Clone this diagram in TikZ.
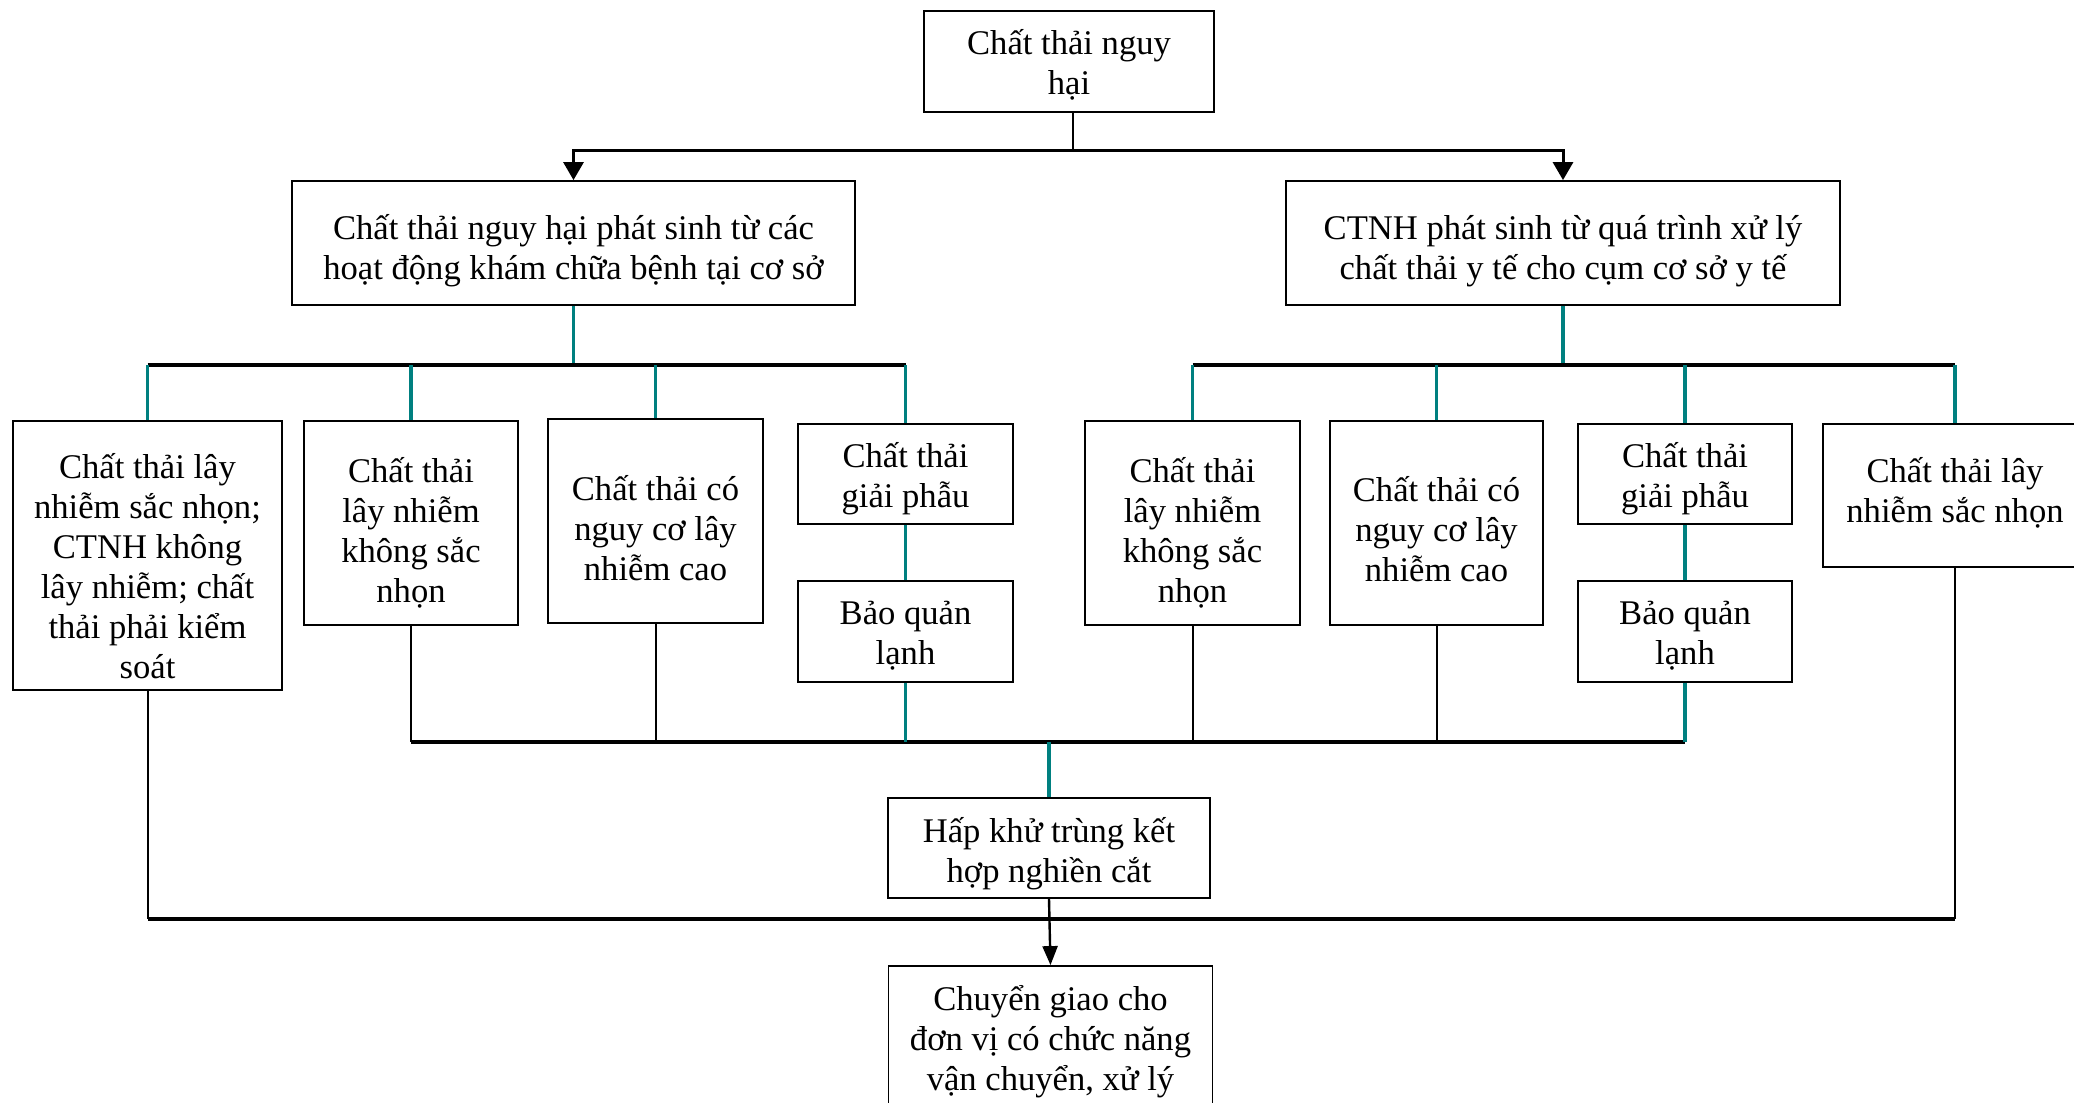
\documentclass[tikz,border=0pt]{standalone}
\usepackage{fontspec}
\setmainfont{Liberation Serif}
\usetikzlibrary{arrows.meta}
\definecolor{tealc}{RGB}{0,128,128}
\begin{document}
\begin{tikzpicture}[x=0.5pt,y=-0.5pt,
  box/.style={draw, line width=0.9pt, inner sep=0pt},
  lbl/.style={inner sep=0pt, align=center, font=\fontsize{17.3}{20}\selectfont},
  tealline/.style={draw=tealc, line width=1.7pt},
  thinline/.style={draw=black, line width=1pt},
  busline/.style={draw=black, line width=2pt},
  toparrow/.style={draw=black, line width=1.5pt, -{Triangle[length=9pt,width=10pt]}},
  botarrow/.style={draw=black, line width=1.2pt, -{Triangle[length=9.5pt,width=7.5pt]}}]
\fill[white] (0,0) rectangle (2074,1103);
\useasboundingbox (0,0) rectangle (2074,1103);

% boxes
\node[box, minimum width=145pt, minimum height=50.5pt] (top) at (1069,61.5) {};
\node[box, minimum width=281.5pt, minimum height=62pt] (L2a) at (573.5,243) {};
\node[box, minimum width=277pt, minimum height=62pt] (L2b) at (1563,243) {};
\node[box, minimum width=134.5pt, minimum height=134.5pt] (A) at (147.5,555.5) {};
\node[box, minimum width=107pt, minimum height=102pt] (B) at (411,523) {};
\node[box, minimum width=107.5pt, minimum height=102pt] (C) at (655.5,521) {};
\node[box, minimum width=107.5pt, minimum height=50pt] (D) at (905.5,474) {};
\node[box, minimum width=107.5pt, minimum height=50.5pt] (E) at (905.5,631.5) {};
\node[box, minimum width=107.5pt, minimum height=102pt] (F) at (1192.5,523) {};
\node[box, minimum width=106.5pt, minimum height=102pt] (G) at (1436.5,523) {};
\node[box, minimum width=107pt, minimum height=50pt] (H) at (1685,474) {};
\node[box, minimum width=107pt, minimum height=50.5pt] (I) at (1685,631.5) {};
\node[box, minimum width=132pt, minimum height=71.5pt] (J) at (1955,495.5) {};
\node[box, minimum width=161pt, minimum height=50pt] (K) at (1049,848) {};
\node[box, minimum width=162pt, minimum height=72pt] (L) at (1050.5,1038) {};

% texts
\node[lbl] (topT) at ([yshift=-1.6pt]top.center) {Chất thải nguy\\hại};
\node[lbl] (L2aT) at ([yshift=-4pt]L2a.center) {Chất thải nguy hại phát sinh từ các\\hoạt động khám chữa bệnh tại cơ sở};
\node[lbl] (L2bT) at ([yshift=-4pt]L2b.center) {CTNH phát sinh từ quá trình xử lý\\chất thải y tế cho cụm cơ sở y tế};
\node[lbl] (AT) at ([yshift=-5.5pt]A.center) {Chất thải lây\\nhiễm sắc nhọn;\\CTNH không\\lây nhiễm; chất\\thải phải kiểm\\soát};
\node[lbl] (BT) at ([yshift=-5pt]B.center) {Chất thải\\lây nhiễm\\không sắc\\nhọn};
\node[lbl] (CT) at ([yshift=-3.5pt]C.center) {Chất thải có\\nguy cơ lây\\nhiễm cao};
\node[lbl] (DT) at ([yshift=-2.2pt]D.center) {Chất thải\\giải phẫu};
\node[lbl] (ET) at ([yshift=-2pt]E.center) {Bảo quản\\lạnh};
\node[lbl] (FT) at ([yshift=-5pt]F.center) {Chất thải\\lây nhiễm\\không sắc\\nhọn};
\node[lbl] (GT) at ([yshift=-3pt]G.center) {Chất thải có\\nguy cơ lây\\nhiễm cao};
\node[lbl] (HT) at ([yshift=-2.2pt]H.center) {Chất thải\\giải phẫu};
\node[lbl] (IT) at ([yshift=-2pt]I.center) {Bảo quản\\lạnh};
\node[lbl] (JT) at ([yshift=1.3pt]J.center) {Chất thải lây\\nhiễm sắc nhọn};
\node[lbl] (KT) at ([yshift=-3pt]K.center) {Hấp khử trùng kết\\hợp nghiền cắt};
\node[lbl] (LT) at ([yshift=-1.6pt]L.center) {Chuyển giao cho\\đơn vị có chức năng\\vận chuyển, xử lý};

% helper coordinates
\coordinate (bus0) at (1073,150);
\coordinate (busA) at (0,365);
\coordinate (busC) at (0,742);
\coordinate (busD) at (0,919);

% top split
\draw[line width=1.2pt] (top.south -| bus0) -- (bus0);
\draw[toparrow] (bus0) -| (L2a.north);
\draw[toparrow] (bus0) -| (L2b.north);

% left group
\draw[tealline] (L2a.south) -- (L2a.south |- busA);
\draw[busline] (A.north |- busA) -- (D.north |- busA);
\foreach \n in {A,B,C,D} \draw[tealline] (\n.north |- busA) -- (\n.north);

% right group
\draw[tealline] (L2b.south) -- (L2b.south |- busA);
\draw[busline] (F.north |- busA) -- (J.north |- busA);
\foreach \n in {F,G,H,J} \draw[tealline] (\n.north |- busA) -- (\n.north);

% cold storage links
\draw[tealline] (D.south) -- (E.north);
\draw[tealline] (H.south) -- (I.north);

% collection bus to autoclave
\draw[busline] (B.south |- busC) -- (I.south |- busC);
\foreach \n in {B,C,F,G} \draw[thinline] (\n.south) -- (\n.south |- busC);
\draw[tealline] (E.south) -- (E.south |- busC);
\draw[tealline] (I.south) -- (I.south |- busC);
\draw[tealline] (K.north |- busC) -- (K.north);

% bottom bus
\draw[busline] (A.south |- busD) -- (J.south |- busD);
\draw[thinline] (A.south) -- (A.south |- busD);
\draw[thinline] (J.south) -- (J.south |- busD);

% final arrow
\draw[botarrow] (K.south) -- (L.north);
\end{tikzpicture}
\end{document}
